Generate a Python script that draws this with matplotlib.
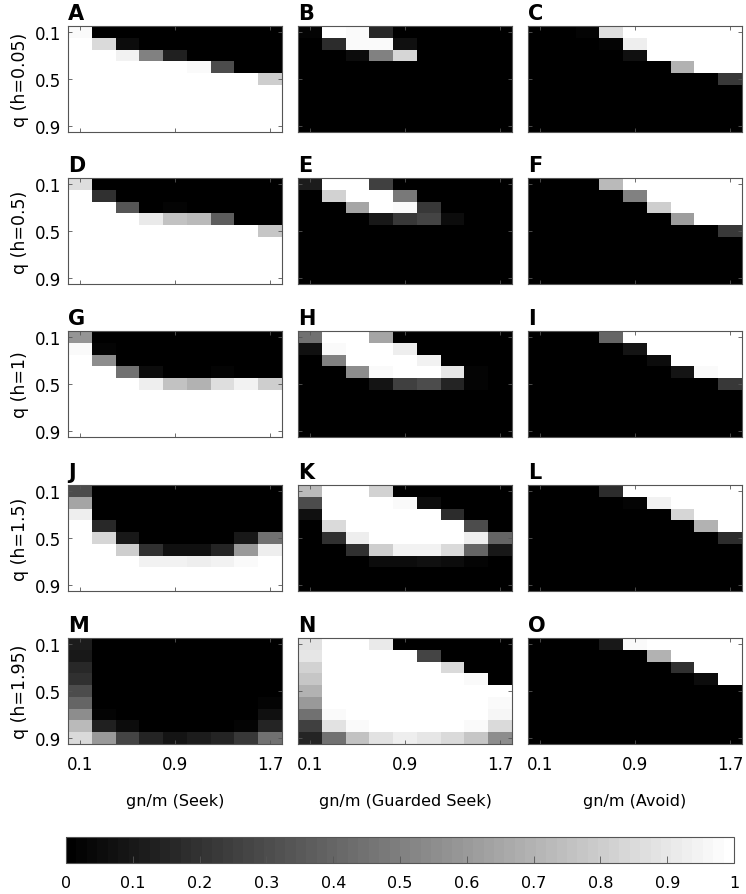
import numpy as np
import matplotlib
matplotlib.use("Agg")
import matplotlib.pyplot as plt

gn_m = [0.1, 0.3, 0.5, 0.7, 0.9, 1.1, 1.3, 1.5, 1.7]
q_vals = [0.1, 0.2, 0.3, 0.4, 0.5, 0.6, 0.7, 0.8, 0.9]
h_labels = ["q (h=0.05)", "q (h=0.5)", "q (h=1)", "q (h=1.5)", "q (h=1.95)"]
strategies = ["gn/m (Seek)", "gn/m (Guarded Seek)", "gn/m (Avoid)"]
letters = list("ABCDEFGHIJKLMNO")

A = [[0.97, 0, 0, 0, 0, 0, 0, 0, 0],
     [1, 0.85, 0.05, 0, 0, 0, 0, 0, 0],
     [1, 1, 0.95, 0.5, 0.13, 0, 0, 0, 0],
     [1, 1, 1, 1, 1, 0.98, 0.3, 0, 0],
     [1, 1, 1, 1, 1, 1, 1, 1, 0.8],
     [1, 1, 1, 1, 1, 1, 1, 1, 1],
     [1, 1, 1, 1, 1, 1, 1, 1, 1],
     [1, 1, 1, 1, 1, 1, 1, 1, 1],
     [1, 1, 1, 1, 1, 1, 1, 1, 1]]
B = [[0.03, 1, 0.97, 0.17, 0, 0, 0, 0, 0],
     [0, 0.18, 0.98, 0.98, 0.07, 0, 0, 0, 0],
     [0, 0, 0.05, 0.5, 0.83, 0, 0, 0, 0],
     [0, 0, 0, 0, 0, 0, 0, 0, 0],
     [0, 0, 0, 0, 0, 0, 0, 0, 0],
     [0, 0, 0, 0, 0, 0, 0, 0, 0],
     [0, 0, 0, 0, 0, 0, 0, 0, 0],
     [0, 0, 0, 0, 0, 0, 0, 0, 0],
     [0, 0, 0, 0, 0, 0, 0, 0, 0]]
C = [[0, 0, 0.03, 0.87, 1, 1, 1, 1, 1],
     [0, 0, 0, 0.03, 0.93, 1, 1, 1, 1],
     [0, 0, 0, 0, 0.07, 1, 1, 1, 1],
     [0, 0, 0, 0, 0, 0, 0.7, 1, 1],
     [0, 0, 0, 0, 0, 0, 0, 0, 0.22],
     [0, 0, 0, 0, 0, 0, 0, 0, 0],
     [0, 0, 0, 0, 0, 0, 0, 0, 0],
     [0, 0, 0, 0, 0, 0, 0, 0, 0],
     [0, 0, 0, 0, 0, 0, 0, 0, 0]]
D = [[0.87, 0, 0, 0, 0, 0, 0, 0, 0],
     [1, 0.2, 0, 0, 0, 0, 0, 0, 0],
     [1, 1, 0.33, 0, 0.03, 0, 0, 0, 0],
     [1, 1, 1, 0.92, 0.75, 0.72, 0.37, 0, 0],
     [1, 1, 1, 1, 1, 1, 1, 1, 0.78],
     [1, 1, 1, 1, 1, 1, 1, 1, 1],
     [1, 1, 1, 1, 1, 1, 1, 1, 1],
     [1, 1, 1, 1, 1, 1, 1, 1, 1],
     [1, 1, 1, 1, 1, 1, 1, 1, 1]]
E = [[0.12, 1, 1, 0.25, 0, 0, 0, 0, 0],
     [0, 0.82, 1, 1, 0.48, 0, 0, 0, 0],
     [0, 0, 0.65, 1, 0.97, 0.22, 0, 0, 0],
     [0, 0, 0, 0.1, 0.23, 0.28, 0.05, 0, 0],
     [0, 0, 0, 0, 0, 0, 0, 0, 0],
     [0, 0, 0, 0, 0, 0, 0, 0, 0],
     [0, 0, 0, 0, 0, 0, 0, 0, 0],
     [0, 0, 0, 0, 0, 0, 0, 0, 0],
     [0, 0, 0, 0, 0, 0, 0, 0, 0]]
F = [[0, 0, 0, 0.72, 1, 1, 1, 1, 1],
     [0, 0, 0, 0, 0.5, 1, 1, 1, 1],
     [0, 0, 0, 0, 0, 0.8, 1, 1, 1],
     [0, 0, 0, 0, 0, 0, 0.62, 1, 1],
     [0, 0, 0, 0, 0, 0, 0, 0, 0.22],
     [0, 0, 0, 0, 0, 0, 0, 0, 0],
     [0, 0, 0, 0, 0, 0, 0, 0, 0],
     [0, 0, 0, 0, 0, 0, 0, 0, 0],
     [0, 0, 0, 0, 0, 0, 0, 0, 0]]
G = [[0.58, 0, 0, 0, 0, 0, 0, 0, 0],
     [0.97, 0.03, 0, 0, 0, 0, 0, 0, 0],
     [1, 0.55, 0, 0, 0, 0, 0, 0, 0],
     [1, 1, 0.45, 0.05, 0, 0, 0.02, 0, 0],
     [1, 1, 1, 0.93, 0.75, 0.7, 0.87, 0.95, 0.8],
     [1, 1, 1, 1, 1, 1, 1, 1, 1],
     [1, 1, 1, 1, 1, 1, 1, 1, 1],
     [1, 1, 1, 1, 1, 1, 1, 1, 1],
     [1, 1, 1, 1, 1, 1, 1, 1, 1]]
H = [[0.45, 1, 1, 0.65, 0, 0, 0, 0, 0],
     [0.07, 0.98, 1, 1, 0.93, 0, 0, 0, 0],
     [0, 0.5, 1, 1, 1, 0.95, 0, 0, 0],
     [0, 0, 0.55, 0.97, 1, 1, 0.9, 0.03, 0],
     [0, 0, 0, 0.08, 0.25, 0.3, 0.15, 0.03, 0],
     [0, 0, 0, 0, 0, 0, 0, 0, 0],
     [0, 0, 0, 0, 0, 0, 0, 0, 0],
     [0, 0, 0, 0, 0, 0, 0, 0, 0],
     [0, 0, 0, 0, 0, 0, 0, 0, 0]]
I = [[0, 0, 0, 0.4, 1, 1, 1, 1, 1],
     [0, 0, 0, 0, 0.08, 1, 1, 1, 1],
     [0, 0, 0, 0, 0, 0.05, 1, 1, 1],
     [0, 0, 0, 0, 0, 0, 0.08, 0.97, 1],
     [0, 0, 0, 0, 0, 0, 0, 0, 0.23],
     [0, 0, 0, 0, 0, 0, 0, 0, 0],
     [0, 0, 0, 0, 0, 0, 0, 0, 0],
     [0, 0, 0, 0, 0, 0, 0, 0, 0],
     [0, 0, 0, 0, 0, 0, 0, 0, 0]]
J = [[0.3, 0, 0, 0, 0, 0, 0, 0, 0],
     [0.65, 0, 0, 0, 0, 0, 0, 0, 0],
     [0.93, 0, 0, 0, 0, 0, 0, 0, 0],
     [1, 0.17, 0, 0, 0, 0, 0, 0, 0],
     [1, 0.83, 0.1, 0, 0, 0, 0, 0.1, 0.45],
     [1, 1, 0.8, 0.2, 0.07, 0.07, 0.15, 0.6, 0.93],
     [1, 1, 1, 0.95, 0.94, 0.93, 0.94, 0.97, 1],
     [1, 1, 1, 1, 1, 1, 1, 1, 1],
     [1, 1, 1, 1, 1, 1, 1, 1, 1]]
K = [[0.72, 1, 1, 0.82, 0, 0, 0, 0, 0],
     [0.3, 1, 1, 1, 0.97, 0.05, 0, 0, 0],
     [0.07, 1, 1, 1, 1, 1, 0.18, 0, 0],
     [0, 0.85, 1, 1, 1, 1, 1, 0.3, 0],
     [0, 0.2, 0.93, 1, 1, 1, 1, 0.93, 0.4],
     [0, 0, 0.2, 0.8, 0.95, 0.95, 0.85, 0.4, 0.1],
     [0, 0, 0, 0.05, 0.06, 0.07, 0.06, 0.03, 0],
     [0, 0, 0, 0, 0, 0, 0, 0, 0],
     [0, 0, 0, 0, 0, 0, 0, 0, 0]]
L = [[0, 0, 0, 0.18, 1, 1, 1, 1, 1],
     [0, 0, 0, 0, 0.03, 0.95, 1, 1, 1],
     [0, 0, 0, 0, 0, 0, 0.83, 1, 1],
     [0, 0, 0, 0, 0, 0, 0, 0.7, 1],
     [0, 0, 0, 0, 0, 0, 0, 0, 0.18],
     [0, 0, 0, 0, 0, 0, 0, 0, 0],
     [0, 0, 0, 0, 0, 0, 0, 0, 0],
     [0, 0, 0, 0, 0, 0, 0, 0, 0],
     [0, 0, 0, 0, 0, 0, 0, 0, 0]]
M = [[0.12, 0, 0, 0, 0, 0, 0, 0, 0],
     [0.1, 0, 0, 0, 0, 0, 0, 0, 0],
     [0.17, 0, 0, 0, 0, 0, 0, 0, 0],
     [0.2, 0, 0, 0, 0, 0, 0, 0, 0],
     [0.3, 0, 0, 0, 0, 0, 0, 0, 0],
     [0.4, 0, 0, 0, 0, 0, 0, 0, 0.03],
     [0.55, 0.03, 0, 0, 0, 0, 0, 0, 0.07],
     [0.72, 0.13, 0.05, 0, 0, 0, 0, 0.03, 0.15],
     [0.85, 0.6, 0.27, 0.15, 0.08, 0.12, 0.15, 0.22, 0.45]]
N = [[0.88, 1, 1, 0.92, 0, 0, 0, 0, 0],
     [0.9, 1, 1, 1, 1, 0.27, 0, 0, 0],
     [0.82, 1, 1, 1, 1, 1, 0.85, 0, 0],
     [0.78, 1, 1, 1, 1, 1, 1, 0.97, 0],
     [0.7, 1, 1, 1, 1, 1, 1, 1, 1],
     [0.6, 1, 1, 1, 1, 1, 1, 1, 0.97],
     [0.45, 0.98, 1, 1, 1, 1, 1, 1, 0.96],
     [0.25, 0.88, 0.97, 1, 1, 1, 1, 0.98, 0.85],
     [0.15, 0.45, 0.75, 0.88, 0.93, 0.9, 0.85, 0.78, 0.55]]
O = [[0, 0, 0, 0.1, 0.97, 1, 1, 1, 1],
     [0, 0, 0, 0, 0, 0.7, 1, 1, 1],
     [0, 0, 0, 0, 0, 0, 0.2, 1, 1],
     [0, 0, 0, 0, 0, 0, 0, 0.05, 1],
     [0, 0, 0, 0, 0, 0, 0, 0, 0],
     [0, 0, 0, 0, 0, 0, 0, 0, 0],
     [0, 0, 0, 0, 0, 0, 0, 0, 0],
     [0, 0, 0, 0, 0, 0, 0, 0, 0],
     [0, 0, 0, 0, 0, 0, 0, 0, 0]]

panels = [A, B, C, D, E, F, G, H, I, J, K, L, M, N, O]

W, Hpx = 746, 895
fig = plt.figure(figsize=(W / 100, Hpx / 100), dpi=100)
cmap = plt.get_cmap("gray", 64)

col_left = [68, 298, 528]
row_top = [27, 179, 332, 486, 639]
pw, ph = 214, 106
edge = "#555555"

dx = gn_m[1] - gn_m[0]
dy = q_vals[1] - q_vals[0]
extent = [gn_m[0] - dx / 2, gn_m[-1] + dx / 2, q_vals[-1] + dy / 2, q_vals[0] - dy / 2]

im = None
for r in range(5):
    for c in range(3):
        idx = r * 3 + c
        ax = fig.add_axes([col_left[c] / W, (Hpx - row_top[r] - ph) / Hpx, pw / W, ph / Hpx])
        im = ax.imshow(np.array(panels[idx]), cmap=cmap, vmin=0, vmax=1,
                       extent=extent, aspect="auto", interpolation="nearest")
        ax.set_xticks([0.1, 0.9, 1.7])
        ax.set_yticks([0.1, 0.5, 0.9])
        ax.tick_params(direction="in", length=3, width=0.6, color=edge,
                       top=True, right=True, labelsize=12)
        ax.tick_params(axis="x", pad=8)
        ax.tick_params(axis="y", pad=5)
        for s in ax.spines.values():
            s.set_color(edge)
            s.set_linewidth(0.8)
        if c == 0:
            ax.set_yticklabels(["0.1", "0.5", "0.9"])
            ax.set_ylabel(h_labels[r], fontsize=12.5, labelpad=4)
        else:
            ax.set_yticklabels([])
        if r == 4:
            ax.set_xticklabels(["0.1", "0.9", "1.7"])
            ax.set_xlabel(strategies[c], fontsize=11.5, labelpad=14)
        else:
            ax.set_xticklabels([])
        ax.text(0.0, 1.03, letters[idx], transform=ax.transAxes, fontsize=15,
                fontweight="bold", ha="left", va="bottom")

cax = fig.add_axes([66 / W, (Hpx - 864) / Hpx, 668 / W, 26 / Hpx])
cb = fig.colorbar(im, cax=cax, orientation="horizontal")
ticks = [0, 0.1, 0.2, 0.3, 0.4, 0.5, 0.6, 0.7, 0.8, 0.9, 1]
cb.set_ticks(ticks)
cb.set_ticklabels(["0", "0.1", "0.2", "0.3", "0.4", "0.5", "0.6", "0.7", "0.8", "0.9", "1"])
cax.tick_params(direction="in", length=5, width=0.6, color=edge, labelsize=11.5, pad=9)
cb.outline.set_edgecolor(edge)
cb.outline.set_linewidth(0.8)

fig.savefig("out.png", dpi=100)
